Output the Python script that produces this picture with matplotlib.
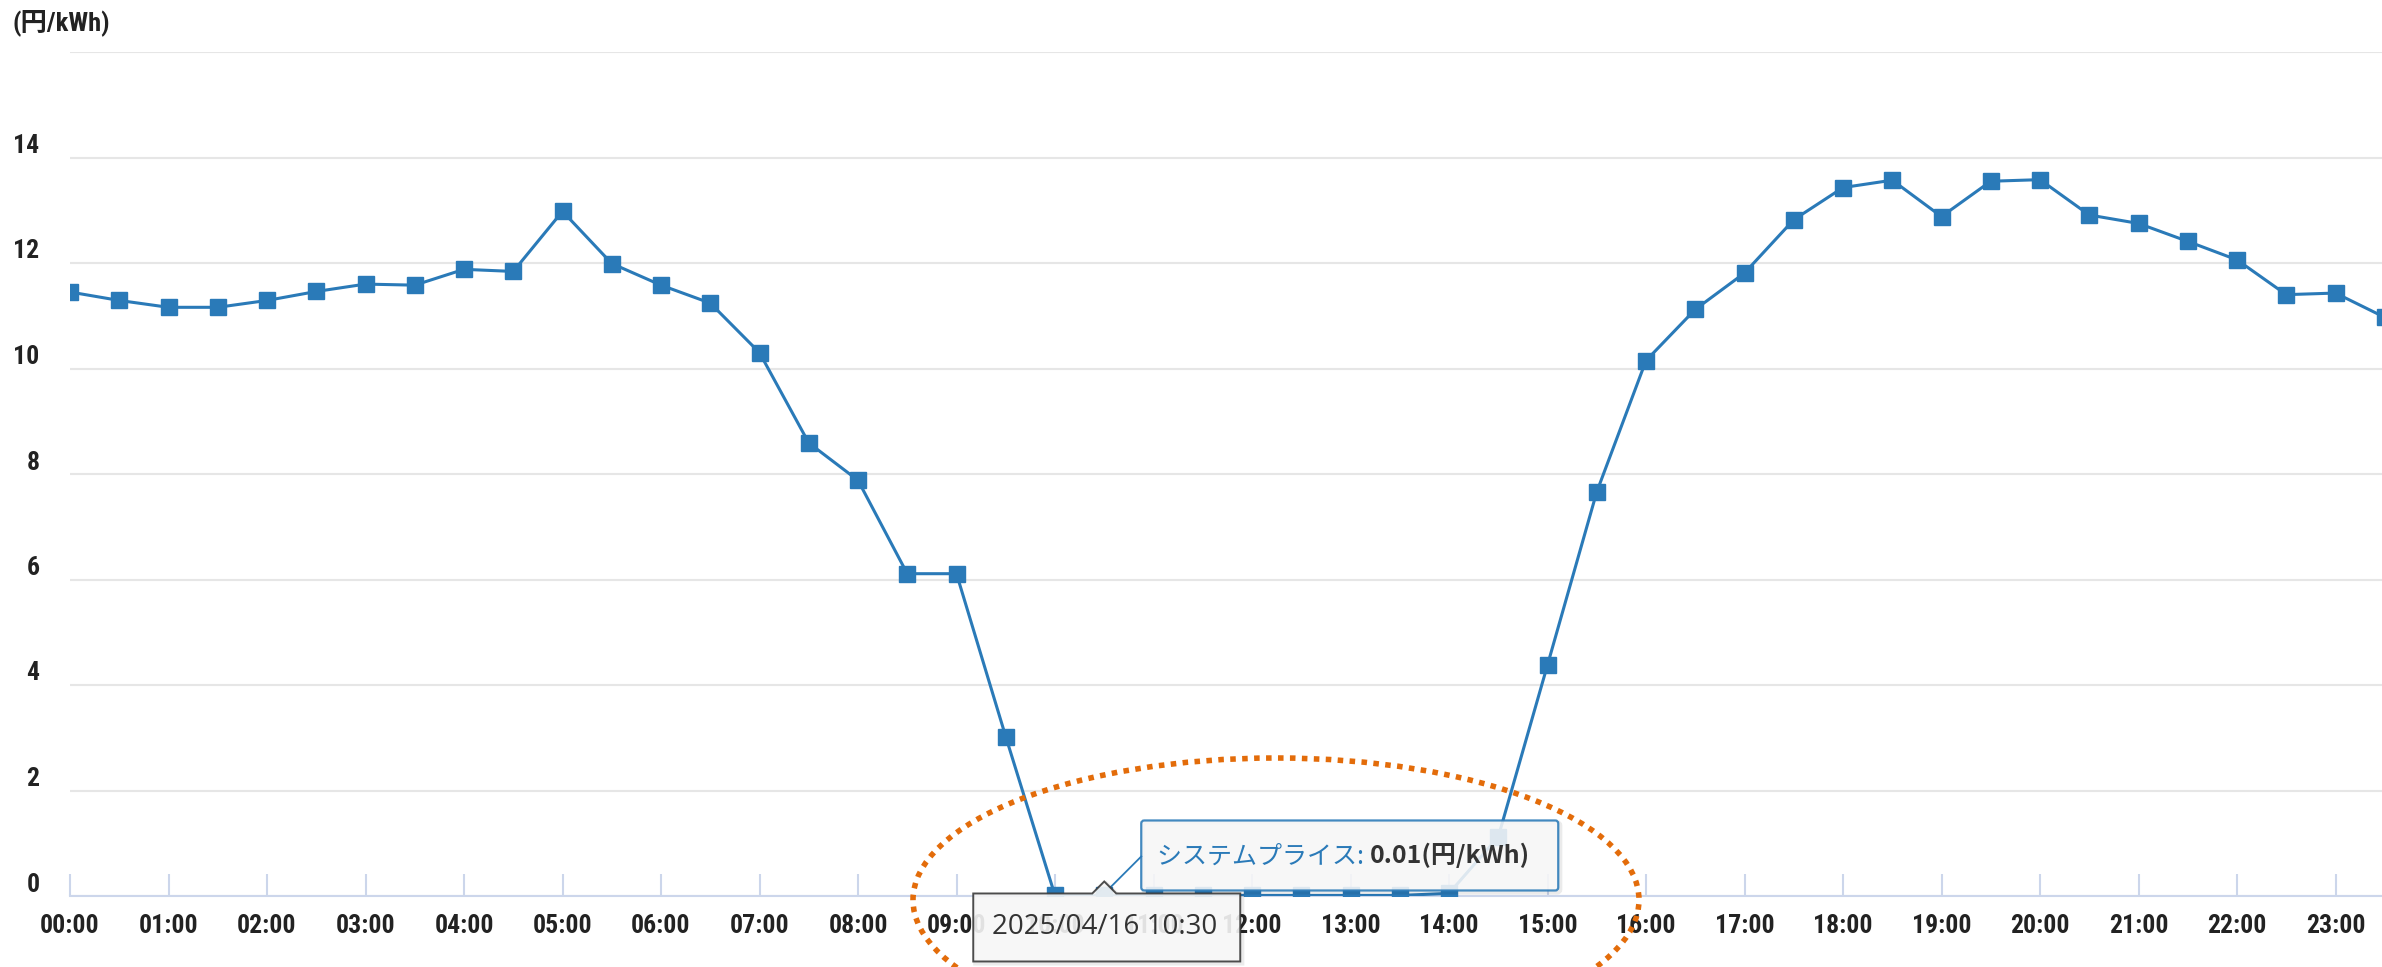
import os
import matplotlib
matplotlib.use("Agg")
import matplotlib.pyplot as plt
from matplotlib import font_manager
from matplotlib.patches import Ellipse, FancyBboxPatch, Polygon
from matplotlib.transforms import ScaledTranslation, IdentityTransform
import numpy as np

# ---- data -------------------------------------------------------------
time_slots = [
    "00:00", "00:30", "01:00", "01:30", "02:00", "02:30", "03:00", "03:30",
    "04:00", "04:30", "05:00", "05:30", "06:00", "06:30", "07:00", "07:30",
    "08:00", "08:30", "09:00", "09:30", "10:00", "10:30", "11:00", "11:30",
    "12:00", "12:30", "13:00", "13:30", "14:00", "14:30", "15:00", "15:30",
    "16:00", "16:30", "17:00", "17:30", "18:00", "18:30", "19:00", "19:30",
    "20:00", "20:30", "21:00", "21:30", "22:00", "22:30", "23:00", "23:30",
]
prices = [
    11.45, 11.29, 11.16, 11.16, 11.29, 11.46, 11.60, 11.58,
    11.88, 11.84, 12.98, 11.99, 11.58, 11.24, 10.30, 8.59,
    7.88, 6.11, 6.11, 3.02, 0.01, 0.01, 0.01, 0.01,
    0.01, 0.01, 0.01, 0.01, 0.05, 1.12, 4.38, 7.66,
    10.15, 11.12, 11.81, 12.82, 13.43, 13.57, 12.88, 13.55,
    13.58, 12.91, 12.75, 12.41, 12.06, 11.40, 11.43, 10.97,
]
hour_labels = time_slots[::2]
y_ticks = [0, 2, 4, 6, 8, 10, 12, 14, 16]
y_tick_labels = ["0", "2", "4", "6", "8", "10", "12", "14", ""]

series_name = "システムプライス"
unit_label = "(円/kWh)"
hover_slot = "10:30"
hover_date = "2025/04/16"

# ---- style ------------------------------------------------------------
W, H, DPI = 2382, 967, 100
LINE = "#2a7ab8"
GRID = "#e6e6e6"
AXIS = "#ccd6eb"
LABEL = "#222222"
ORANGE = "#e36c0a"
cjk = "Noto Sans CJK JP"


def pick_font(names):
    available = {f.name for f in font_manager.fontManager.ttflist}
    for name in names:
        if name in available:
            return name
    return "DejaVu Sans"


def narrow_label_font():
    """Return (family, stretch, size) for a condensed bold sans if one exists."""
    prefs = ["liberation sans narrow", "roboto condensed", "dejavu sans",
             "open sans condensed", "noto sans", "arial narrow"]
    found = []
    for f in font_manager.fontManager.ttflist:
        fn = os.path.basename(f.fname).lower()
        nm = f.name.lower()
        cond = ("narrow" in nm or "condensed" in nm or "narrow" in fn
                or "condensed" in fn)
        if not cond:
            continue
        rank = next((i for i, p in enumerate(prefs) if nm.startswith(p)), 99)
        found.append((rank, f.name, f.stretch))
    if found:
        found.sort(key=lambda t: t[0])
        _, name, stretch = found[0]
        return name, stretch, 18.5
    return pick_font(["Liberation Sans", "DejaVu Sans"]), "normal", 16.5


label_family, label_stretch, label_size = narrow_label_font()
ui_font = pick_font(["Open Sans", "Noto Sans", "DejaVu Sans"])


def px_box(x0, y0, x1, y1):
    """Pixel box given with a top-left origin -> display coords (bottom-left)."""
    return x0, H - y1, x1 - x0, y1 - y0


fig = plt.figure(figsize=(W / DPI, H / DPI), dpi=DPI)
fig.patch.set_facecolor("white")

plot_left, plot_bottom_px, plot_top_px = 70, 896, 52
ax = fig.add_axes([plot_left / W, (H - plot_bottom_px) / H,
                   (W - plot_left) / W, (plot_bottom_px - plot_top_px) / H])

x = np.arange(len(prices))
ax.plot(x, prices, color=LINE, lw=2.2, marker="s", ms=11.5,
        mfc=LINE, mec=LINE, zorder=3, clip_on=True)

slot_px = 49.25
ax.set_xlim(0, (W - plot_left) / slot_px)
ax.set_ylim(0, 16)

for side in ("left", "right", "top"):
    ax.spines[side].set_visible(False)
ax.spines["bottom"].set_color(AXIS)
ax.spines["bottom"].set_linewidth(1.5)

ax.set_yticks(y_ticks)
ax.set_yticklabels(y_tick_labels)
ax.yaxis.grid(True, color=GRID, lw=1.5)
ax.set_axisbelow(True)
ax.tick_params(axis="y", length=0, pad=22, labelsize=label_size,
               labelcolor=LABEL)

ax.set_xticks(x[::2])
ax.set_xticklabels(hour_labels)
ax.tick_params(axis="x", direction="in", length=16, width=1.5, color=AXIS,
               pad=13, labelsize=label_size, labelcolor=LABEL)

for lbl in ax.get_xticklabels() + ax.get_yticklabels():
    lbl.set_fontfamily(label_family)
    lbl.set_fontstretch(label_stretch)
    lbl.set_fontweight("bold")
for lbl in ax.get_yticklabels():
    lbl.set_transform(lbl.get_transform() +
                      ScaledTranslation(0, 14 / DPI, fig.dpi_scale_trans))

# unit label at the top left
fig.text(13 / W, (H - 23) / H, unit_label, ha="left", va="center",
         fontsize=label_size + 0.5, fontweight="bold", color=LABEL,
         family=[label_family, cjk], fontstretch=label_stretch)

# ---- hover tooltip ----------------------------------------------------
hi = time_slots.index(hover_slot)
fig.canvas.draw()
px, py = ax.transData.transform((hi, prices[hi]))
py_top = H - py  # top-left based pixel row of the hovered point

ident = IdentityTransform()

# series tooltip (callout)
tb = (px + 37, py_top - 75, px + 454, py_top - 5)
bx, by, bw, bh = px_box(*tb)
fig.add_artist(FancyBboxPatch((bx + 2, by - 2), bw, bh,
                              boxstyle="round,pad=0,rounding_size=3",
                              transform=ident, fc="none", ec="black", lw=3,
                              alpha=0.08, zorder=10))
fig.add_artist(FancyBboxPatch((bx, by), bw, bh,
                              boxstyle="round,pad=0,rounding_size=3",
                              transform=ident, fc="#f7f7f7", ec=LINE, lw=1.6,
                              alpha=0.88, zorder=11))
fig.add_artist(plt.Line2D([tb[0], px + 1],
                          [H - (py_top - 39), H - (py_top - 3)],
                          transform=ident, color=LINE, lw=1.3, zorder=11))

base_y = (H - (py_top - 32)) / H
t1 = fig.text((tb[0] + 16) / W, base_y, series_name + ": ",
              ha="left", va="baseline", fontsize=18, color=LINE,
              family=[cjk], zorder=12)
fig.canvas.draw()
t1_right = t1.get_window_extent().x1
fig.text(t1_right / W, base_y, f"{prices[hi]:.2f}{unit_label}",
         ha="left", va="baseline", fontsize=18, fontweight="bold",
         color="#333333", family=[cjk], zorder=12)

# x crosshair label (date/time)
dx0, dx1 = px - 131, px + 136
dy0, dy1 = py_top - 2, py_top + 66
ptr_half, ptr_tip = 12, py_top - 14
date_verts = [
    (dx0, dy0), (px - ptr_half, dy0), (px, ptr_tip), (px + ptr_half, dy0),
    (dx1, dy0), (dx1, dy1), (dx0, dy1),
]
date_disp = [(vx, H - vy) for vx, vy in date_verts]
fig.add_artist(Polygon([(vx + 2, vy - 2) for vx, vy in date_disp], closed=True,
                       transform=ident, fc="none", ec="black", lw=3,
                       alpha=0.08, zorder=12))
fig.add_artist(Polygon(date_disp, closed=True, transform=ident,
                       fc="#f7f7f7", ec="#3a3a3a", lw=1.4, alpha=0.9,
                       zorder=13))
fig.text(px / W, (H - (dy0 + dy1) / 2) / H, f"{hover_date} {hover_slot}",
         ha="center", va="center", fontsize=20, color="#333333",
         family=[ui_font], zorder=14)

# dotted highlight ring around the midday trough
ring = Ellipse((1276, H - 900), 726, 284, transform=ident, fill=False,
               ec=ORANGE, lw=4.0, linestyle=(0, (1.0, 1.15)), zorder=15)
fig.add_artist(ring)

fig.savefig("out.png", dpi=DPI, facecolor="white")
